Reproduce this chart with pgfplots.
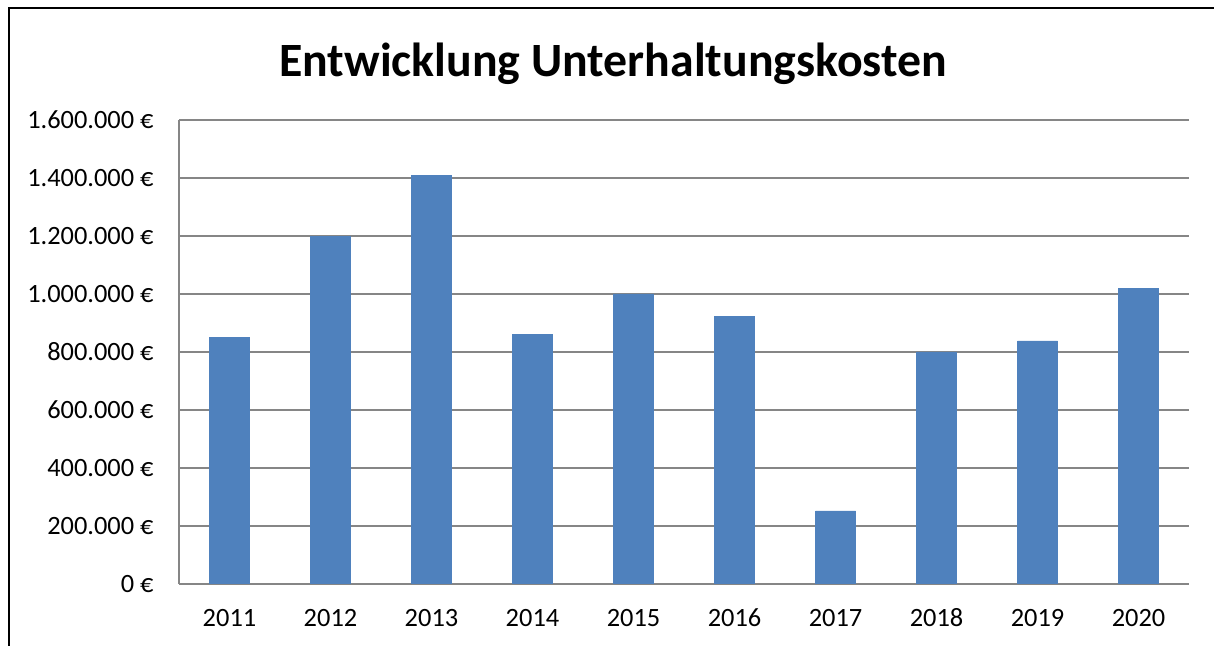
\documentclass[border=0pt]{standalone}
\usepackage{fontspec}
\setmainfont{Carlito}
\usepackage{pgfplots}
\pgfplotsset{compat=1.18}
\definecolor{barblue}{HTML}{4F81BD}
\definecolor{gridgray}{HTML}{868686}
\begin{document}
\begin{tikzpicture}
\path[use as bounding box] (0,0) rectangle (607pt,323pt);
\draw[line width=1pt] (4.5pt,-1pt) -- (4.5pt,319pt) -- (608pt,319pt);
\node[font=\fontsize{23.9}{28}\selectfont\bfseries] at (306.5pt,291pt) {Entwicklung Unterhaltungskosten};
\begin{axis}[
  at={(89.5pt,31pt)}, anchor=south west,
  scale only axis, width=505pt, height=232pt,
  xmin=-0.5, xmax=9.5, ymin=0, ymax=1600000,
  axis x line*=bottom, axis y line*=left,
  axis line style={gridgray, line width=1pt, -},
  ymajorgrids, grid style={gridgray, line width=0.75pt},
  major tick length=0pt,
  scaled y ticks=false,
  ytick={0,200000,400000,600000,800000,1000000,1200000,1400000,1600000},
  yticklabels={0 €,200.000 €,400.000 €,600.000 €,800.000 €,1.000.000 €,1.200.000 €,1.400.000 €,1.600.000 €},
  xtick=data,
  xticklabels={2011,2012,2013,2014,2015,2016,2017,2018,2019,2020},
  tick label style={font=\fontsize{13.2}{15}\selectfont, inner sep=0pt},
  yticklabel style={anchor=east, xshift=-12.5pt},
  xticklabel style={anchor=base, yshift=-21.5pt},
  ybar, bar width=20pt,
]
\addplot[fill=barblue, draw=barblue] coordinates {
(0,850000) (1,1197000) (2,1408000) (3,859000) (4,1000000) (5,924000) (6,252000) (7,800000) (8,838000) (9,1018000)};
\end{axis}
\end{tikzpicture}
\end{document}
